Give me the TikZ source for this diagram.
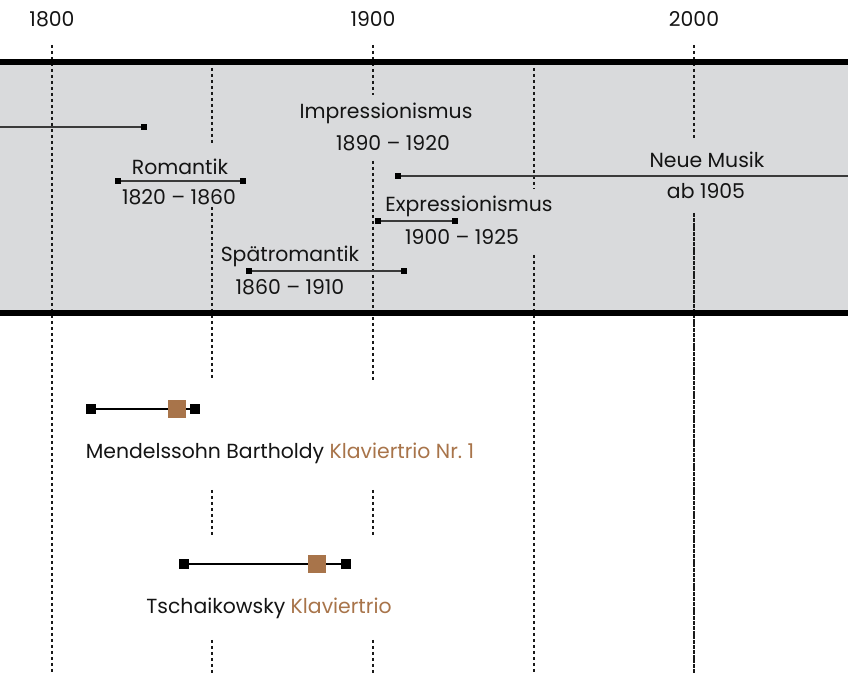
\documentclass[tikz,border=0pt]{standalone}
\usepackage{fontspec}
\setmainfont{Poppins}
\usetikzlibrary{positioning}

\definecolor{bandgrey}{HTML}{D9DADC}
\definecolor{triobrown}{HTML}{A8744A}
\definecolor{periodgrey}{HTML}{3A3A3A}
\definecolor{inkblack}{HTML}{141414}

\tikzset{
  gridline/.style={line width=0.6pt, dash pattern=on 1.5pt off 1.5pt, black!90},
  bandedge/.style={line width=3.3pt, black},
  periodline/.style={line width=0.6pt, periodgrey},
  periodend/.style={fill=black, minimum size=3pt, inner sep=0pt},
  lifeline/.style={line width=1pt, black},
  lifeend/.style={fill=black, minimum size=5pt, inner sep=0pt},
  worksq/.style={fill=triobrown, minimum size=9pt, inner sep=0pt},
  txt/.style={inner sep=0pt, text=inkblack}
}

\begin{document}
\begin{tikzpicture}[x=0.5pt, y=-0.5pt, font=\fontsize{10.2}{12}\selectfont]
  \useasboundingbox (0,0) rectangle (848,673);
  % grey band of the epochs
  \fill[bandgrey] (0,62) rectangle (848,313);
  % dashed year lines, broken where text sits
  \draw[gridline] (52,45) -- (52,673);
  \draw[gridline] (212,62) -- (212,143) (212,207) -- (212,380) (212,490) -- (212,535) (212,640) -- (212,673);
  \draw[gridline] (373,45) -- (373,95) (373,161) -- (373,380) (373,490) -- (373,535) (373,640) -- (373,673);
  \draw[gridline] (534,62) -- (534,189) (534,255) -- (534,673);
  \draw[gridline] (694,45) -- (694,138);
  \draw[gridline, dash pattern=on 2pt off 0.4pt] (694,213) -- (694,673);
  \draw[bandedge] (0,62) -- (848,62) (0,313) -- (848,313);

  % years
  \node[txt] (y1800) at (52,19) {1800};
  \node[txt] (y1900) at (373,19) {1900};
  \node[txt] (y2000) at (694,19) {2000};

  % Klassik (runs in from the left)
  \coordinate (kla-a) at (0,127);
  \node[periodend] (kla-b) at (144,127) {};
  \draw[periodline] (kla-a) -- (kla-b);

  % Romantik
  \node[periodend] (rom-a) at (118,181) {};
  \node[periodend] (rom-b) at (243,181) {};
  \draw[periodline] (rom-a) -- (rom-b);
  \node[txt] (rom-name) at (180,167) {Romantik};
  \node[txt] (rom-date) at (179,197) {1820 – 1860};

  % Impressionismus
  \node[txt] (imp-name) at (386,113) {Impressionismus};
  \node[txt] (imp-date) at (393,143) {1890 – 1920};

  % Neue Musik
  \node[periodend] (neu-a) at (398,176) {};
  \coordinate (neu-b) at (848,176);
  \draw[periodline] (neu-a) -- (neu-b);
  \node[txt] (neu-name) at (707,160) {Neue Musik};
  \node[txt] (neu-date) at (706,191) {ab 1905};

  % Expressionismus
  \node[periodend] (exp-a) at (378,221) {};
  \node[periodend] (exp-b) at (455,221) {};
  \draw[periodline] (exp-a) -- (exp-b);
  \node[txt] (exp-name) at (469,206) {Expressionismus};
  \node[txt] (exp-date) at (462,237) {1900 – 1925};

  % Spaetromantik
  \node[periodend] (spr-a) at (249,271) {};
  \node[periodend] (spr-b) at (404,271) {};
  \draw[periodline] (spr-a) -- (spr-b);
  \node[txt] (spr-name) at (290,256) {Spätromantik};
  \node[txt] (spr-date) at (290,287) {1860 – 1910};

  % Mendelssohn
  \node[lifeend] (fmb-a) at (91,409) {};
  \node[lifeend] (fmb-b) at (195,409) {};
  \draw[lifeline] (fmb-a) -- (fmb-b);
  \node[worksq] (fmb-w) at (177,409) {};
  \node[txt] (fmb-t) at (280,453) {Mendelssohn Bartholdy \textcolor{triobrown}{Klaviertrio Nr.~1}};

  % Tschaikowsky
  \node[lifeend] (tch-a) at (184,564) {};
  \node[lifeend] (tch-b) at (346,564) {};
  \draw[lifeline] (tch-a) -- (tch-b);
  \node[worksq] (tch-w) at (317,564) {};
  \node[txt] (tch-t) at (269,608) {Tschaikowsky \textcolor{triobrown}{Klaviertrio}};
\end{tikzpicture}
\end{document}
